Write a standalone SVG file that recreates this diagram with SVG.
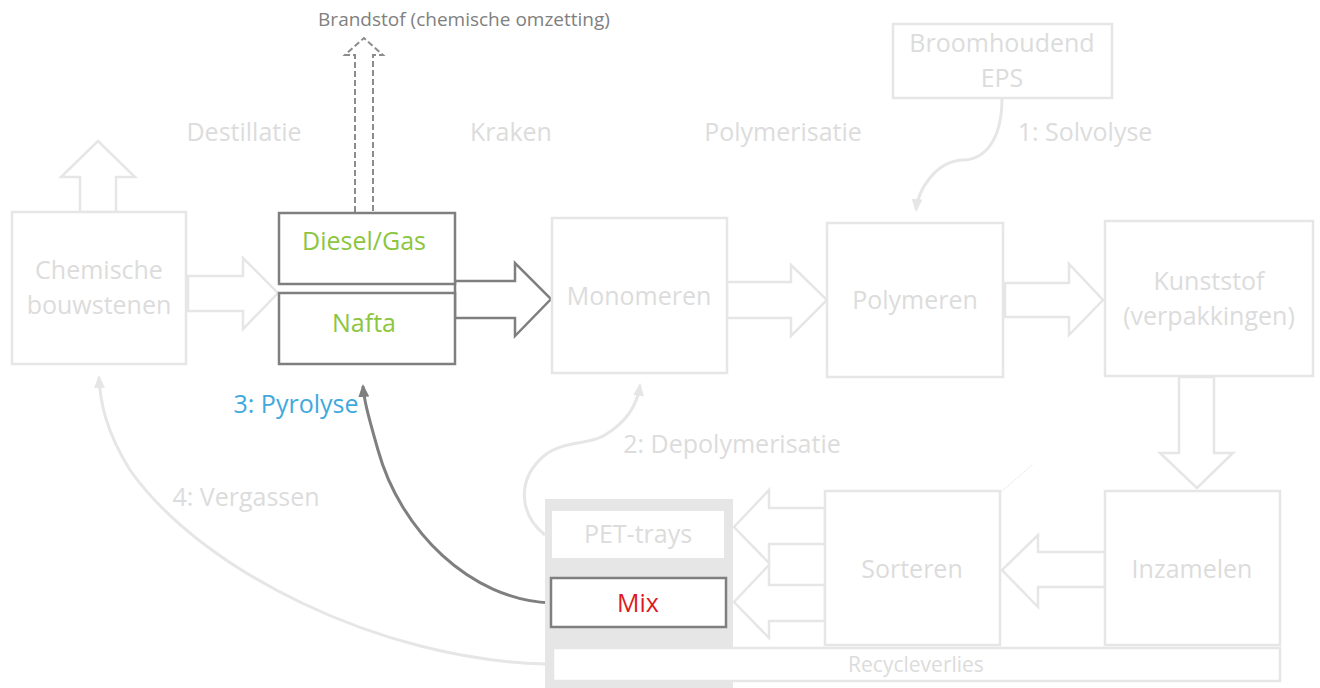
<svg xmlns="http://www.w3.org/2000/svg" width="1320" height="688" viewBox="0 0 1320 688">
<style>
.lb{fill:#fff;stroke:#e6e6e6;stroke-width:2.5}
.db{fill:#fff;stroke:#7f7f7f;stroke-width:2.5}
.la{fill:#fff;stroke:#e6e6e6;stroke-width:2.5;stroke-linejoin:miter}
.da{fill:#fff;stroke:#7f7f7f;stroke-width:2.5}
.lc{fill:none;stroke:#e6e6e6;stroke-width:3}
.dc{fill:none;stroke:#7f7f7f;stroke-width:3}
text{font-family:"Open Sans","Liberation Sans",sans-serif;text-anchor:middle}
.t{font-size:25px;fill:#dcdcdc}
.s{font-size:19px;fill:#808080}
.r{font-size:21px;fill:#dcdcdc}
.g{font-size:25px;fill:#8cc63f}
</style>
<defs>
<marker id="ml" viewBox="0 0 13 11" refX="11" refY="5.5" markerWidth="13" markerHeight="11" markerUnits="userSpaceOnUse" orient="auto">
<path d="M0,0 L13,5.5 L0,11 Z" fill="#e6e6e6"/>
</marker>
<marker id="md" viewBox="0 0 13 11" refX="11" refY="5.5" markerWidth="13" markerHeight="11" markerUnits="userSpaceOnUse" orient="auto">
<path d="M0,0 L13,5.5 L0,11 Z" fill="#7f7f7f"/>
</marker>
</defs>
<rect width="1320" height="688" fill="#fff"/>

<g id="connectors">
<polygon class="la" points="80,212 80,177 61,177 98,141 135,177 116,177 116,212"/>
<polygon class="la" points="188,276 243,276 243,258 278,293 243,329 243,311 188,311"/>
<polygon class="da" points="455,281 515,281 515,263 551,299 515,336 515,318 455,318"/>
<polygon class="la" points="727,282 791,282 791,265 827,300 791,336 791,318 727,318"/>
<polygon class="la" points="1005,283 1069,283 1069,264 1103,300 1069,335 1069,317 1005,317"/>
<polygon class="la" points="1179,377 1179,453 1160,453 1197,488 1233,453 1214,453 1214,377"/>
<polygon class="la" points="1105,552 1038,552 1038,535 1002,570 1038,607 1038,587 1105,587"/>
<polygon class="la" points="825,508 769,508 769,490 734,527 769,563 769,544 825,544"/>
<polygon class="la" points="825,585 769,585 769,565 734,602 769,638 769,621 825,621"/>
<path d="M355,212 V55 H345 L364,38 L383,55 H373 V212" fill="none" stroke="#8c8c8c" stroke-width="2" stroke-dasharray="6,3"/>
<path class="lc" d="M1002,98 C1002,140 985,160 962,160 C935,162 918,190 916,210" marker-end="url(#ml)"/>
<path class="lc" d="M545,535 C520,515 515,480 545,455 C565,440 590,445 605,435 C630,420 638,400 640,385" marker-end="url(#ml)"/>
<path class="dc" d="M551,603 C470,600 400,530 378,450 C368,415 364,400 363,386" marker-end="url(#md)"/>
<path class="lc" d="M545,664 C380,660 200,570 130,470 C105,430 100,400 99,377" marker-end="url(#ml)"/>
<line x1="1001" y1="492" x2="1033" y2="464" stroke="#e6e6e6" stroke-width="1" stroke-dasharray="2,1"/>
</g>

<g id="label-brandstof"><text class="s" x="464" y="26">Brandstof (chemische omzetting)</text></g>
<g id="label-destillatie"><text class="t" x="244" y="141">Destillatie</text></g>
<g id="label-kraken"><text class="t" x="511" y="141">Kraken</text></g>
<g id="label-polymerisatie"><text class="t" x="783" y="141">Polymerisatie</text></g>
<g id="label-solvolyse"><text class="t" x="1085" y="141">1: Solvolyse</text></g>
<g id="label-depolymerisatie"><text class="t" x="732" y="453">2: Depolymerisatie</text></g>
<g id="label-pyrolyse"><text x="296" y="413" style="font-size:25px;fill:#3fa9de">3: Pyrolyse</text></g>
<g id="label-vergassen"><text class="t" x="246" y="506">4: Vergassen</text></g>

<g id="chemische">
<rect class="lb" x="12" y="212" width="174" height="152"/>
<text class="t" x="99" y="279">Chemische</text>
<text class="t" x="99" y="314">bouwstenen</text>
</g>
<g id="diesel">
<rect class="db" x="279" y="213" width="176" height="71"/>
<text class="g" x="364" y="250">Diesel/Gas</text>
</g>
<g id="nafta">
<rect class="db" x="279" y="293" width="176" height="71"/>
<text class="g" x="364" y="332">Nafta</text>
</g>
<g id="monomeren">
<rect class="lb" x="552" y="218" width="175" height="155"/>
<text class="t" x="639" y="305">Monomeren</text>
</g>
<g id="polymeren">
<rect class="lb" x="827" y="223" width="176" height="154"/>
<text class="t" x="915" y="309">Polymeren</text>
</g>
<g id="kunststof">
<rect class="lb" x="1105" y="221" width="208" height="155"/>
<text class="t" x="1209" y="290">Kunststof</text>
<text class="t" x="1209" y="325">(verpakkingen)</text>
</g>
<g id="broom">
<rect class="lb" x="893" y="24" width="219" height="74"/>
<text class="t" x="1002" y="52">Broomhoudend</text>
<text class="t" x="1002" y="87">EPS</text>
</g>
<g id="inzamelen">
<rect class="lb" x="1105" y="491" width="175" height="154"/>
<text class="t" x="1192" y="578">Inzamelen</text>
</g>
<g id="sorteren">
<rect class="lb" x="825" y="491" width="175" height="154"/>
<text class="t" x="912" y="578">Sorteren</text>
</g>
<g id="panel">
<rect x="545" y="499" width="188" height="189" fill="#e6e6e6"/>
</g>
<g id="recycleverlies">
<rect class="lb" x="553" y="648" width="727" height="33"/>
<text class="r" x="916" y="672">Recycleverlies</text>
</g>
<g id="pet">
<rect x="552" y="511" width="172" height="47" fill="#fff"/>
<text class="t" x="638" y="543">PET-trays</text>
</g>
<g id="mix">
<rect class="db" x="551" y="578" width="175" height="49"/>
<text x="638" y="612" style="font-size:25px;fill:#e0191f">Mix</text>
</g>
</svg>
